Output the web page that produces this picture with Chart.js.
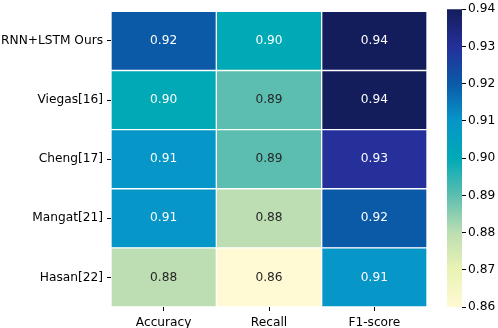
<!DOCTYPE html>
<html><head><meta charset="utf-8">
<script src="https://cdn.jsdelivr.net/npm/chart.js@4/dist/chart.umd.min.js"></script>
<style>
html,body{margin:0;padding:0;background:#fff;}
#wrap{position:relative;width:498px;height:328px;overflow:hidden;}
canvas{position:absolute;top:0;}
</style></head>
<body><div id="wrap"><canvas id="hm" width="430" height="328" style="left:0"></canvas><canvas id="cb" width="68" height="328" style="left:430px"></canvas></div>
<script>
const models = ['RNN+LSTM Ours','Viegas[16]','Cheng[17]','Mangat[21]','Hasan[22]'];
const metrics = ['Accuracy','Recall','F1-score'];
const accuracy = [0.92,0.90,0.91,0.91,0.88];
const recall = [0.90,0.89,0.89,0.88,0.86];
const f1score = [0.94,0.94,0.93,0.92,0.91];
const colorbarTicks = [0.86,0.87,0.88,0.89,0.90,0.91,0.92,0.93,0.94];
const vmin = 0.86, vmax = 0.94;

// YlGnBu-like colormap anchors (as rendered in the reference)
const YLGNBU = [[255,249,212],[234,243,180],[188,222,178],[92,190,176],[0,169,182],[7,150,200],[11,90,168],[37,48,154],[20,29,91]];
function cmapRGB(v){
  let t=(v-vmin)/(vmax-vmin); t=Math.max(0,Math.min(1,t));
  const p=t*(YLGNBU.length-1); const i=Math.min(Math.floor(p),YLGNBU.length-2); const f=p-i;
  return YLGNBU[i].map((c,k)=>c+(YLGNBU[i+1][k]-c)*f);
}
function cmap(v){const c=cmapRGB(v);return `rgb(${Math.round(c[0])},${Math.round(c[1])},${Math.round(c[2])})`;}
function textColor(v){
  const c=cmapRGB(v).map(x=>x/255).map(x=>x<=0.03928?x/12.92:Math.pow((x+0.055)/1.055,2.4));
  const lum=0.2126*c[0]+0.7152*c[1]+0.0722*c[2];
  return lum>0.408?'#262626':'#ffffff';
}

const FONT_SIZE=12.2;
Chart.defaults.font.family='DejaVu Sans';
Chart.defaults.font.size=FONT_SIZE;
Chart.defaults.color='#000';

const columns=[accuracy,recall,f1score];
const datasets=columns.map((vals,j)=>({
  label:metrics[j],
  data:vals.map(()=>[j,j+1]),
  values:vals,
  backgroundColor:vals.map(cmap),
  borderColor:'#ffffff',
  borderWidth:1,
  borderSkipped:false,
  grouped:false,
  barPercentage:1,
  categoryPercentage:1
}));

const cellLabels={
  id:'cellLabels',
  afterDatasetsDraw(chart){
    const c=chart.ctx;
    c.save();
    c.font=FONT_SIZE+'px "DejaVu Sans"';
    c.textAlign='center';c.textBaseline='middle';
    chart.data.datasets.forEach((ds,di)=>{
      chart.getDatasetMeta(di).data.forEach((el,i)=>{
        const p=el.getCenterPoint();
        c.fillStyle=textColor(ds.values[i]);
        c.fillText(ds.values[i].toFixed(2),p.x,p.y);
      });
    });
    c.restore();
  }
};

new Chart(document.getElementById('hm'),{
  type:'bar',
  data:{labels:models,datasets},
  plugins:[cellLabels],
  options:{
    indexAxis:'y',responsive:false,animation:false,devicePixelRatio:1,
    layout:{padding:{top:5,right:3,left:0,bottom:0}},
    plugins:{legend:{display:false},tooltip:{enabled:false}},
    scales:{
      x:{type:'linear',min:0,max:metrics.length,
        afterBuildTicks:s=>{s.ticks=metrics.map((_,j)=>({value:j+0.5}));},
        afterFit:s=>{s.height=21;},
        ticks:{autoSkip:false,maxRotation:0,padding:5,color:'#000',callback:v=>metrics[Math.floor(v)]},
        grid:{drawOnChartArea:false,drawTicks:true,tickLength:4,color:'#000'},
        border:{display:false}},
      y:{type:'category',
        afterFit:s=>{s.width=111;},
        ticks:{padding:4,color:'#000'},
        grid:{drawOnChartArea:false,drawTicks:true,tickLength:4,color:'#000',offset:false},
        border:{display:false}}
    }
  }
});

new Chart(document.getElementById('cb'),{
  type:'bar',
  data:{labels:[''],datasets:[{
    data:[[vmin,vmax]],
    barPercentage:1,categoryPercentage:1,borderWidth:0,
    backgroundColor:ctx=>{
      const ch=ctx.chart; if(!ch.chartArea) return null;
      const ys=ch.scales.y;
      const g=ch.ctx.createLinearGradient(0,ys.getPixelForValue(vmin),0,ys.getPixelForValue(vmax));
      YLGNBU.forEach((c,i)=>g.addColorStop(i/(YLGNBU.length-1),`rgb(${c[0]},${c[1]},${c[2]})`));
      return g;
    }
  }]},
  options:{
    responsive:false,animation:false,devicePixelRatio:1,
    layout:{padding:{top:5,left:17,right:0,bottom:21}},
    plugins:{legend:{display:false},tooltip:{enabled:false}},
    scales:{
      x:{display:false},
      y:{position:'right',min:vmin,max:vmax,
        afterBuildTicks:s=>{s.ticks=colorbarTicks.map(v=>({value:v}));},
        afterFit:s=>{s.width=36;},
        ticks:{padding:2,color:'#000',callback:v=>v.toFixed(2)},
        grid:{drawOnChartArea:false,drawTicks:true,tickLength:4,color:'#000'},
        border:{display:false}}
    }
  }
});
</script></body></html>
